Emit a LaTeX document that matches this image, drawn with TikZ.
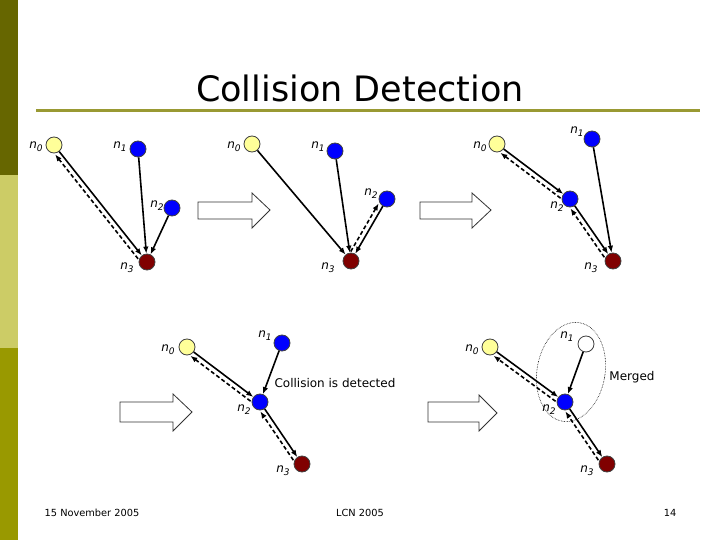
\documentclass[tikz,border=0pt]{standalone}
\usepackage{fontspec}
\setmainfont{DejaVu Sans}
\usetikzlibrary{calc,arrows.meta}
\definecolor{sbA}{HTML}{666600}
\definecolor{sbB}{HTML}{CCCC66}
\definecolor{sbC}{HTML}{999900}
\definecolor{uline}{HTML}{999933}
\definecolor{yfill}{HTML}{FFFF99}
\definecolor{dred}{HTML}{800000}
\newcommand\nlab[1]{\textit{n}\raisebox{-0.45ex}{\fontsize{9}{9}\selectfont\textit{#1}}}
\newcommand\dsharrow[2]{\draw[dsh] ($(#1)!5pt!90:(#2)$) -- ($(#2)!5pt!-90:(#1)$);}
\tikzset{
  nd/.style={circle,draw=black!75,line width=0.8pt,minimum size=16pt,inner sep=0pt},
  ynd/.style={nd,fill=yfill},
  bnd/.style={nd,fill=blue},
  rnd/.style={nd,fill=dred},
  wnd/.style={nd,fill=white},
  lab/.style={font=\fontsize{12}{12}\selectfont,inner sep=0pt},
  sol/.style={line width=1.6pt,-{Latex[length=7pt,width=5.5pt]}},
  dsh/.style={line width=1.6pt,dash pattern=on 4pt off 2.5pt,-{Latex[length=7pt,width=5.5pt]},shorten <=8pt,shorten >=8pt},
  bigarr/.style={draw=black!80,line width=0.8pt,fill=white},
  txt/.style={inner sep=0pt}
}
\begin{document}
\begin{tikzpicture}[x=1pt,y=-1pt]
\useasboundingbox (0,0) rectangle (720,540);
\fill[white] (0,0) rectangle (720,540);
% sidebar
\fill[sbA] (0,0) rectangle (18,175);
\fill[sbB] (0,175) rectangle (18,348);
\fill[sbC] (0,348) rectangle (18,540);
% title
\node[txt,font=\fontsize{35}{35}\selectfont] (title) at (360,88) {Collision Detection};
\draw[uline,line width=3pt] (36,111) -- (700,111);
% big hollow arrows
\draw[bigarr] (198,202) -- (252,202) -- (252,193) -- (270,210) -- (252,228) -- (252,219) -- (198,219) -- cycle;
\draw[bigarr] (420,202) -- (472,202) -- (472,193) -- (491,210) -- (472,228) -- (472,219) -- (420,219) -- cycle;
\draw[bigarr] (120,402) -- (173,402) -- (173,394) -- (192,412) -- (173,431) -- (173,422) -- (120,422) -- cycle;
\draw[bigarr] (428,402) -- (479,402) -- (479,395) -- (497,413) -- (479,431) -- (479,422) -- (428,422) -- cycle;
% panel 1
\node[ynd] (a0) at (54,145) {};
\node[bnd] (a1) at (138,149) {};
\node[bnd] (a2) at (172,208) {};
\node[rnd] (a3) at (147,262) {};
\node[lab] (a0l) at (36,147) {\nlab{0}};
\node[lab] (a1l) at (120,147) {\nlab{1}};
\node[lab] (a2l) at (157,206) {\nlab{2}};
\node[lab] (a3l) at (127,268) {\nlab{3}};
\draw[sol] (a0) -- (a3);
\draw[sol] (a1) -- (a3);
\draw[sol] (a2) -- (a3);
\dsharrow{a3}{a0}
% panel 2
\node[ynd] (b0) at (252,144) {};
\node[bnd] (b1) at (335,151) {};
\node[bnd] (b2) at (387,199) {};
\node[rnd] (b3) at (351,261) {};
\node[lab] (b0l) at (234,147) {\nlab{0}};
\node[lab] (b1l) at (318,147) {\nlab{1}};
\node[lab] (b2l) at (371,194) {\nlab{2}};
\node[lab] (b3l) at (328,268) {\nlab{3}};
\draw[sol] (b0) -- (b3);
\draw[sol] (b1) -- (b3);
\draw[sol] (b2) -- (b3);
\dsharrow{b3}{b2}
% panel 3
\node[ynd] (c0) at (497,144) {};
\node[bnd] (c1) at (592,139) {};
\node[bnd] (c2) at (570,199) {};
\node[rnd] (c3) at (613,261) {};
\node[lab] (c0l) at (480,147) {\nlab{0}};
\node[lab] (c1l) at (577,132) {\nlab{1}};
\node[lab] (c2l) at (557,207) {\nlab{2}};
\node[lab] (c3l) at (591,268) {\nlab{3}};
\draw[sol] (c0) -- (c2);
\draw[sol] (c2) -- (c3);
\draw[sol] (c1) -- (c3);
\dsharrow{c2}{c0}
\dsharrow{c3}{c2}
% panel 4
\node[ynd] (d0) at (187,347) {};
\node[bnd] (d1) at (282,343) {};
\node[bnd] (d2) at (260,402) {};
\node[rnd] (d3) at (302,464) {};
\node[lab] (d0l) at (168,350) {\nlab{0}};
\node[lab] (d1l) at (265,336) {\nlab{1}};
\node[lab] (d2l) at (244,410) {\nlab{2}};
\node[lab] (d3l) at (283,471) {\nlab{3}};
\draw[sol] (d0) -- (d2);
\draw[sol] (d1) -- (d2);
\draw[sol] (d2) -- (d3);
\dsharrow{d2}{d0}
\dsharrow{d3}{d2}
\node[txt,font=\fontsize{12}{12}\selectfont] (coll) at (335,383) {Collision is detected};
% panel 5
\node[ynd] (e0) at (490,347) {};
\node[wnd] (e1) at (586,344) {};
\node[bnd] (e2) at (565,402) {};
\node[rnd] (e3) at (607,464) {};
\node[lab] (e0l) at (472,350) {\nlab{0}};
\node[lab] (e1l) at (567,337) {\nlab{1}};
\node[lab] (e2l) at (549,410) {\nlab{2}};
\node[lab] (e3l) at (587,471) {\nlab{3}};
\draw[sol] (e0) -- (e2);
\draw[sol] (e1) -- (e2);
\draw[sol] (e2) -- (e3);
\dsharrow{e2}{e0}
\dsharrow{e3}{e2}
\draw[densely dotted,line width=0.6pt] (571,372) ellipse [x radius=34, y radius=50, rotate=-10];
\node[txt,font=\fontsize{12}{12}\selectfont] (merged) at (632,377) {Merged};
% footer
\node[txt,font=\fontsize{9.8}{10}\selectfont] (f1) at (92,513) {15 November 2005};
\node[txt,font=\fontsize{9.8}{10}\selectfont] (f2) at (360,513) {LCN 2005};
\node[txt,font=\fontsize{9.8}{10}\selectfont] (f3) at (670,513) {14};
\end{tikzpicture}
\end{document}
